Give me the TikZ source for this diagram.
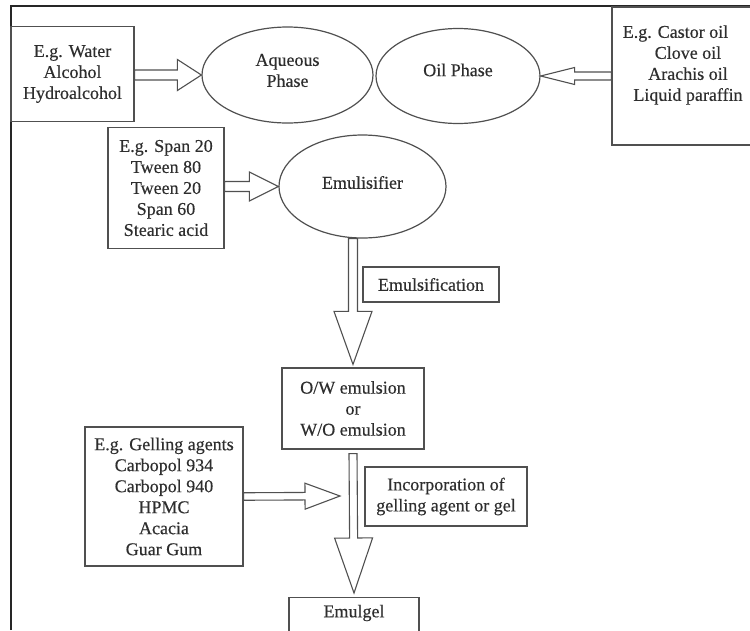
\documentclass[tikz,border=0pt]{standalone}
\usepackage{fontspec}
\setmainfont[FakeBold=0.35]{Liberation Serif}
\usetikzlibrary{calc,shapes.geometric}
\definecolor{linec}{HTML}{505050}
\definecolor{txtc}{HTML}{2E2E2E}
\newcommand\mainfs{\fontsize{18}{21}\selectfont}
\newcommand\blockarrow[5]{%
  \coordinate (ba-s) at #4;
  \coordinate (ba-e) at #5;
  \coordinate (ba-m) at ($(ba-e)!#3pt!(ba-s)$);
  \draw[arrowline] ($(ba-s)!#1pt!90:(ba-e)$) -- ($(ba-m)!#1pt!-90:(ba-s)$)
    -- ($(ba-m)!#2pt!-90:(ba-s)$) -- (ba-e) -- ($(ba-m)!#2pt!90:(ba-s)$)
    -- ($(ba-m)!#1pt!90:(ba-s)$) -- ($(ba-s)!#1pt!-90:(ba-e)$) -- cycle;
}
\tikzset{
  box/.style={draw=linec, line width=1.2pt, rectangle, inner sep=0pt, align=center, font=\mainfs, text=txtc},
  oval/.style={draw=linec, line width=1.2pt, ellipse, inner sep=0pt},
  lbl/.style={align=center, font=\mainfs, text=txtc, inner sep=0pt},
  arrowline/.style={draw=linec, line width=1.1pt, line join=miter, fill=white},
  frameline/.style={draw=black!85, line width=1.4pt}
}
\begin{document}
\begin{tikzpicture}[x=1pt,y=-1pt]
\useasboundingbox (0,0) rectangle (750,630);
\clip (0,0) rectangle (750,630);
\fill[white] (0,0) rectangle (750,630);
\draw[frameline] (11,630) -- (11,6) -- (750,6);

% top row
\node[box, minimum width=123pt, minimum height=95pt] (water) at (72.5,74) {E.g. Water\\Alcohol\\Hydroalcohol};
\node[oval, minimum width=171pt, minimum height=96pt] (aq) at (287.5,75) {};
\node[lbl] (aqtext) at (287.5,70.5) {Aqueous\\Phase};
\node[oval, minimum width=164pt, minimum height=95pt] (oil) at (458,76) {};
\node[lbl] (oiltext) at (458,70) {Oil Phase};
\node[box, minimum width=158pt, minimum height=138pt] (castor) at (691,76) {};
\node[lbl] (castortext) at (688,65) {E.g. Castor oil\hspace*{25pt}\\Clove oil\\Arachis oil\\Liquid paraffin};

% emulsifier row
\node[box, minimum width=116pt, minimum height=121pt] (span) at (166,188) {E.g. Span 20\\Tween 80\\Tween 20\\Span 60\\Stearic acid};
\node[oval, minimum width=167pt, minimum height=103pt] (emul) at (362.5,186.5) {};
\node[lbl] (emultext) at (362.5,182.5) {Emulisifier};

% middle
\node[box, minimum width=136pt, minimum height=35pt] (emulsif) at (431,284.5) {Emulsification};
\node[box, minimum width=142pt, minimum height=81pt] (ow) at (353,408.5) {O/W emulsion\\or\\W/O emulsion};

% bottom
\node[box, minimum width=158pt, minimum height=139pt] (gel) at (164,496.5) {E.g. Gelling agents\\Carbopol 934\\Carbopol 940\\HPMC\\Acacia\\Guar Gum};
\node[box, minimum width=162pt, minimum height=59pt] (incorp) at (446,496.5) {Incorporation of\\gelling agent or gel};
\node[box, minimum width=130pt, minimum height=44pt, anchor=north] (emulgel) at (354,597) {};
\node[lbl] (emulgeltext) at (354,613) {Emulgel};
\coordinate (geltip) at (340,496);

% block arrows
\blockarrow{5}{15.5}{24}{(water.east |- aq.west)}{(aq.west)}
\blockarrow{4}{8.5}{34}{(castor.west |- oil.east)}{(oil.east)}
\blockarrow{5}{14.5}{29}{(span.east |- emul.west)}{(emul.west)}
\blockarrow{4.5}{19}{53}{(emul.south -| ow.north)}{($(ow.north)+(0,-3)$)}
\blockarrow{4}{19}{55}{($(ow.south)+(0,4)$)}{($(emulgel.north)+(0,-4)$)}
\blockarrow{3.75}{13}{35}{(gel.east)}{(geltip)}
\end{tikzpicture}
\end{document}
